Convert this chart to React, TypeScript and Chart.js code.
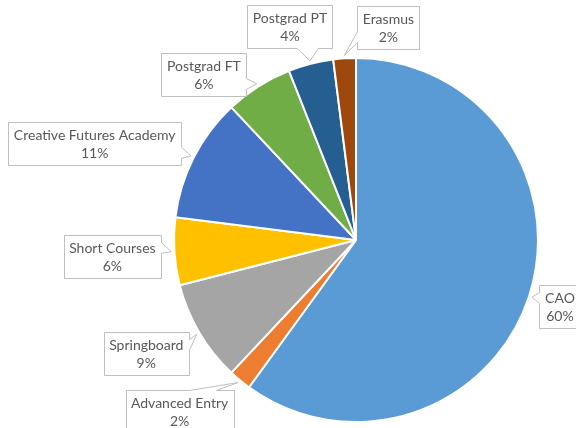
import { useEffect, useRef } from "react";
import { Chart, registerables } from "chart.js";

Chart.register(...registerables);

const categories = [
  "CAO",
  "Advanced Entry",
  "Springboard",
  "Short Courses",
  "Creative Futures Academy",
  "Postgrad FT",
  "Postgrad PT",
  "Erasmus",
];
const shares = [60, 2, 9, 6, 11, 6, 4, 2];
const percentLabels = ["60%", "2%", "9%", "6%", "11%", "6%", "4%", "2%"];
const sliceColors = [
  "#5B9BD5",
  "#ED7D31",
  "#A5A5A5",
  "#FFC000",
  "#4472C4",
  "#70AD47",
  "#255E91",
  "#9E480E",
];

// layout: offset of each callout box centre from the slice's outer mid point
const calloutOffsets: [number, number][] = [
  [28, 9],
  [-58.5, 29],
  [-50.5, 19.5],
  [-59, 4.5],
  [-96.5, -12.5],
  [-53, -9],
  [-20, -34],
  [44, -28],
];

const FONT = '14px Lato, "Open Sans", sans-serif';

const calloutPlugin = {
  id: "callouts",
  afterDatasetsDraw(chart: any) {
    const ctx: CanvasRenderingContext2D = chart.ctx;
    const meta = chart.getDatasetMeta(0);
    ctx.save();
    ctx.font = FONT;
    meta.data.forEach((arc: any, i: number) => {
      const { x, y, startAngle, endAngle, outerRadius } = arc.getProps(
        ["x", "y", "startAngle", "endAngle", "outerRadius"],
        true
      );
      const mid = (startAngle + endAngle) / 2;
      const px = x + Math.cos(mid) * (outerRadius + 3);
      const py = y + Math.sin(mid) * (outerRadius + 3);
      const lines = [categories[i], percentLabels[i]];
      const tw = Math.max(...lines.map((s) => ctx.measureText(s).width));
      const w = Math.round(tw + 11);
      const h = 43;
      const cx = px + calloutOffsets[i][0];
      const cy = py + calloutOffsets[i][1];
      const l = Math.round(cx - w / 2) + 0.5;
      const t = Math.round(cy - h / 2) + 0.5;
      const r = l + w;
      const b = t + h;
      const dxPos = px - cx;
      const dyPos = py - cy;
      const inside = px > l && px < r && py > t && py < b;
      const vertical = Math.abs(dyPos) > Math.abs((dxPos * h) / w);
      const side = inside
        ? ""
        : vertical
        ? dyPos < 0
          ? "top"
          : "bottom"
        : dxPos < 0
        ? "left"
        : "right";
      const x1 = l + (w * (dxPos > 0 ? 7 : 2)) / 12;
      const x2 = l + (w * (dxPos > 0 ? 10 : 5)) / 12;
      const y1 = t + (h * (dyPos > 0 ? 7 : 2)) / 12;
      const y2 = t + (h * (dyPos > 0 ? 10 : 5)) / 12;

      ctx.beginPath();
      ctx.moveTo(l, t);
      if (side === "top") {
        ctx.lineTo(x1, t);
        ctx.lineTo(px, py);
        ctx.lineTo(x2, t);
      }
      ctx.lineTo(r, t);
      if (side === "right") {
        ctx.lineTo(r, y1);
        ctx.lineTo(px, py);
        ctx.lineTo(r, y2);
      }
      ctx.lineTo(r, b);
      if (side === "bottom") {
        ctx.lineTo(x2, b);
        ctx.lineTo(px, py);
        ctx.lineTo(x1, b);
      }
      ctx.lineTo(l, b);
      if (side === "left") {
        ctx.lineTo(l, y2);
        ctx.lineTo(px, py);
        ctx.lineTo(l, y1);
      }
      ctx.closePath();
      ctx.fillStyle = "#FFFFFF";
      ctx.fill();
      ctx.strokeStyle = "#BFBFBF";
      ctx.lineWidth = 1;
      ctx.stroke();

      ctx.fillStyle = "#595959";
      ctx.textAlign = "center";
      ctx.textBaseline = "middle";
      ctx.fillText(lines[0], cx, cy - 8);
      ctx.fillText(lines[1], cx, cy + 10);
    });
    ctx.restore();
  },
};

export default function App() {
  const canvasRef = useRef<HTMLCanvasElement | null>(null);

  useEffect(() => {
    if (!canvasRef.current) return;
    const chart = new Chart(canvasRef.current, {
      type: "pie",
      data: {
        labels: categories,
        datasets: [
          {
            data: shares,
            backgroundColor: sliceColors,
            borderColor: "#FFFFFF",
            borderWidth: 2,
          },
        ],
      },
      options: {
        responsive: false,
        animation: false,
        layout: { padding: { top: 57, bottom: 5, left: 173, right: 37 } },
        plugins: {
          legend: { display: false },
          tooltip: { enabled: false },
          title: { display: false },
        },
      },
      plugins: [calloutPlugin],
    });
    return () => chart.destroy();
  }, []);

  return (
    <div
      style={{
        position: "fixed",
        left: 0,
        top: 0,
        width: 576,
        height: 428,
        background: "#FFFFFF",
      }}
    >
      <canvas ref={canvasRef} width={576} height={428} />
    </div>
  );
}
